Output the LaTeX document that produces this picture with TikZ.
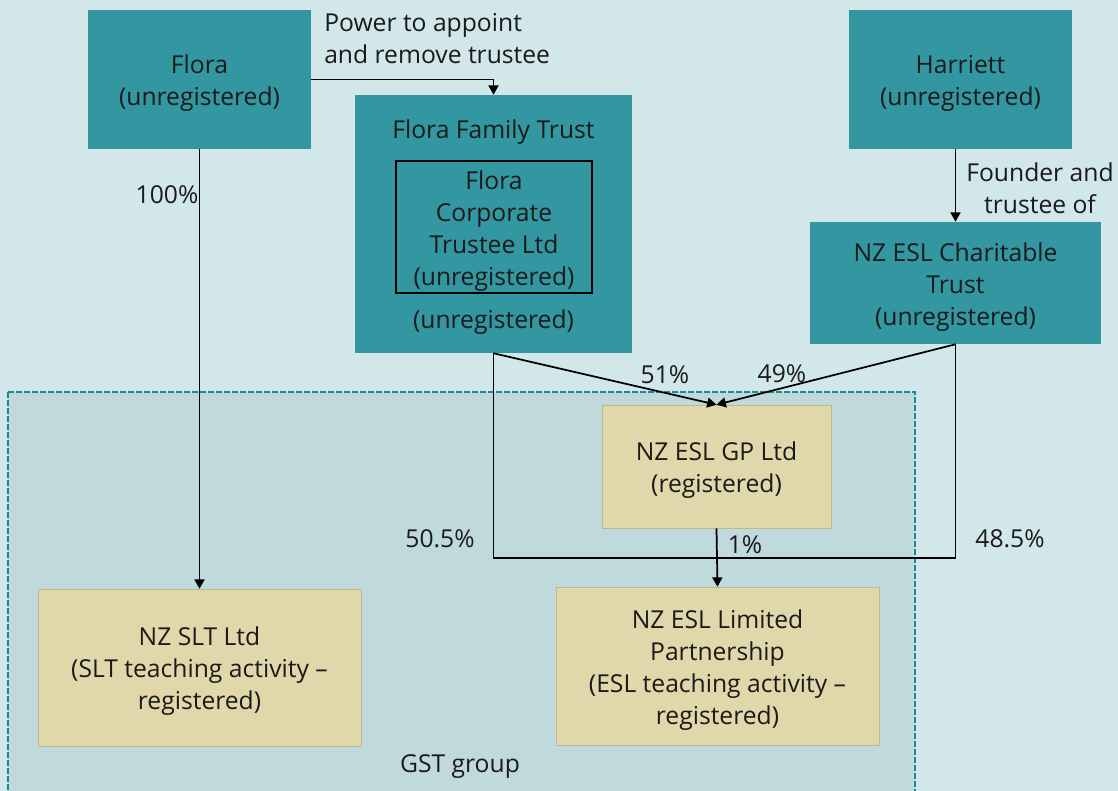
\documentclass[tikz,border=0pt]{standalone}
\usepackage{fontspec}
\setmainfont{Open Sans}
\usetikzlibrary{arrows.meta, positioning}
\definecolor{pagebg}{HTML}{D1E7EA}
\definecolor{groupbg}{HTML}{C0D9DC}
\definecolor{groupline}{HTML}{1A8A94}
\definecolor{tealfill}{HTML}{3297A1}
\definecolor{beigefill}{HTML}{E0D8AB}
\definecolor{inktext}{HTML}{1A1A1A}
% pushes box text down a little
\newcommand{\toprule}{\rule{0pt}{19.5pt}}
\tikzset{
    entity/.style = {rectangle, inner sep=0pt, align=center, text=inktext,
        font=\fontsize{18.5}{24}\selectfont},
    unreg/.style = {entity, fill=tealfill},
    reg/.style = {entity, fill=beigefill, draw=beigefill!85!black, line width=0.4pt},
    lbl/.style = {inner sep=0pt, text=inktext, font=\fontsize{18.5}{24}\selectfont},
    own/.style = {draw=black, line width=1.3pt},
    ownarrow/.style = {own, -{Triangle[length=7pt, width=7.5pt]}},
}

\begin{document}
\begin{tikzpicture}[x=0.75pt, y=-0.75pt]
        \useasboundingbox (0,0) rectangle (1118,791);
        \fill[pagebg] (0,0) rectangle (1118,791);

        % GST group
        \draw[fill=groupbg, draw=groupline, line width=1.5pt, dash pattern=on 4.5pt off 1.5pt]
            (8,392) rectangle (915,800);
        \node[lbl] (gst) at (460,767) {GST group};

        % top row
        \node[unreg, minimum width=167.25pt, minimum height=104.25pt] (flora) at (199.5,79.5) {\toprule Flora\\(unregistered)};
        \node[unreg, minimum width=167.25pt, minimum height=104.25pt] (harriett) at (960.5,79.5) {\toprule Harriett\\(unregistered)};

        \node[unreg, minimum width=207.75pt, minimum height=193.5pt] (fft) at (493.5,224) {};
        \node[lbl] (ffttitle) at (493.5,132) {Flora Family Trust};
        \node[entity, fill=tealfill, draw=black, line width=1pt, minimum width=147pt, minimum height=99pt] (corp) at (494,227)
            {\toprule Flora\\Corporate\\Trustee Ltd\\(unregistered)};
        \node[lbl] (fftstatus) at (493.5,322) {(unregistered)};

        \node[unreg, minimum width=218.25pt, minimum height=91.5pt] (charity) at (955.5,283) {\toprule NZ ESL Charitable\\Trust\\(unregistered)};

        % registered entities
        \node[reg, minimum width=171.75pt, minimum height=92.25pt] (gp) at (716.5,466.5) {\toprule NZ ESL GP Ltd\\(registered)};
        \node[reg, minimum width=242.25pt, minimum height=117.75pt] (slt) at (199.5,667.5) {\toprule NZ SLT Ltd\\(SLT teaching activity --\\registered)};
        \node[reg, minimum width=242.25pt, minimum height=118.5pt] (lp) at (717.5,666) {\toprule NZ ESL Limited\\Partnership\\(ESL teaching activity --\\registered)};

        % connectors
        \draw[ownarrow] (flora.east) -| (fft.north);
        \node[lbl, anchor=west, align=left] (power) at (324,39) {Power to appoint\\and remove trustee};

        \draw[ownarrow] (flora.south) -- (slt.north);
        \node[lbl] (p100) at (167,195) {100\%};

        \draw[ownarrow] (charity.north |- harriett.south) -- (charity.north);
        \node[lbl, align=center] (founder) at (1040,188) {Founder and\\trustee of};

        \draw[ownarrow] (fft.south) -- (gp.north);
        \node[lbl] (p51) at (665,375) {51\%};
        \draw[ownarrow] (charity.south) -- (gp.north);
        \node[lbl] (p49) at (782,374) {49\%};

        \draw[own] (fft.south) -- ++(0,205) -| (charity.south);
        \draw[ownarrow] (gp.south) -- (lp.north);
        \node[lbl] (p505) at (440,539) {50.5\%};
        \node[lbl] (p1) at (745,545) {1\%};
        \node[lbl] (p485) at (1010,539) {48.5\%};
    \end{tikzpicture}
\end{document}
